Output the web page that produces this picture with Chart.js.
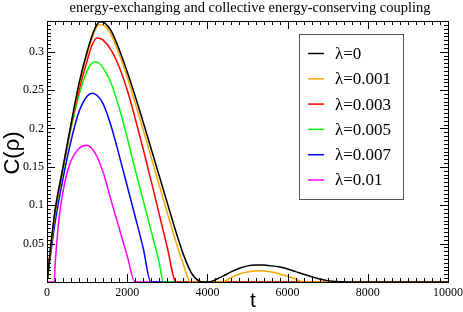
<!DOCTYPE html>
<html>
<head>
<meta charset="utf-8">
<script src="https://cdn.jsdelivr.net/npm/chart.js@4.4.1/dist/chart.umd.min.js"></script>
<style>
  html, body { margin: 0; padding: 0; background: #fff; }
  #wrap { width: 463px; height: 312px; position: relative; }
</style>
</head>
<body>
<div id="wrap"><canvas id="c"></canvas></div>
<script>
// values
const titleText = 'energy-exchanging and collective energy-conserving coupling';
const labels = ['λ=0', 'λ=0.001', 'λ=0.003', 'λ=0.005', 'λ=0.007', 'λ=0.01'];
const colors = ['#000000', '#ffa500', '#ff0000', '#00ff00', '#0000ff', '#ff00ff'];
const xTicks = [0, 2000, 4000, 6000, 8000, 10000];
const yTicks = [0.05, 0.1, 0.15, 0.2, 0.25, 0.3];

const t0 = [0, 50, 100, 200, 400, 600, 800, 1000, 1200, 1320, 1450, 1600, 1800, 2000, 2200, 2400, 2600, 2800, 3000, 3200, 3400, 3600, 3800, 3900, 4000, 4100, 4200, 4400, 4600, 4800, 5000, 5200, 5400, 5600, 5800, 6000, 6200, 6400, 6600, 6800, 7000, 7200, 7500, 10000];
const c0 = [0, 0.025, 0.05, 0.093, 0.15, 0.206, 0.259, 0.3, 0.331, 0.339, 0.337, 0.327, 0.303, 0.274, 0.242, 0.208, 0.173, 0.138, 0.103, 0.068, 0.036, 0.012, 0.001, 0, 0, 0.0008, 0.003, 0.008, 0.0135, 0.018, 0.021, 0.022, 0.022, 0.021, 0.0195, 0.017, 0.0135, 0.01, 0.0068, 0.004, 0.0018, 0.0005, 0, 0];

const t1 = [0, 50, 100, 200, 400, 600, 800, 1000, 1200, 1300, 1450, 1600, 1800, 2000, 2200, 2400, 2600, 2800, 3000, 3200, 3400, 3580, 4360, 4600, 4800, 5000, 5300, 5600, 5800, 6000, 6200, 6390, 10000];
const c1 = [0, 0.025, 0.05, 0.093, 0.15, 0.205, 0.257, 0.297, 0.328, 0.335, 0.333, 0.322, 0.297, 0.267, 0.233, 0.198, 0.162, 0.126, 0.09, 0.055, 0.023, 0, 0, 0.006, 0.0105, 0.013, 0.0145, 0.013, 0.0105, 0.0075, 0.004, 0, 0];

const t3 = [0, 50, 100, 200, 400, 600, 800, 1000, 1120, 1240, 1400, 1600, 1800, 2000, 2200, 2400, 2600, 2800, 3000, 3220, 10000];
const c3 = [0, 0.024, 0.048, 0.09, 0.148, 0.203, 0.25, 0.288, 0.308, 0.318, 0.315, 0.302, 0.28, 0.25, 0.213, 0.173, 0.131, 0.088, 0.045, 0, 0];

const t5 = [0, 50, 100, 200, 400, 600, 800, 1000, 1100, 1200, 1300, 1400, 1600, 1800, 2000, 2200, 2400, 2600, 2800, 2900, 10000];
const c5 = [0, 0.023, 0.046, 0.087, 0.146, 0.2, 0.244, 0.275, 0.284, 0.287, 0.285, 0.279, 0.259, 0.227, 0.188, 0.146, 0.106, 0.066, 0.025, 0, 0];

const t7 = [0, 50, 100, 200, 400, 600, 800, 1000, 1130, 1250, 1400, 1600, 1800, 2000, 2200, 2400, 2590, 10000];
const c7 = [0, 0.02, 0.04, 0.077, 0.135, 0.184, 0.222, 0.242, 0.246, 0.243, 0.232, 0.203, 0.165, 0.125, 0.085, 0.044, 0, 0];

const t10 = [0, 180, 200, 250, 300, 400, 500, 600, 800, 990, 1200, 1400, 1600, 1800, 2000, 2195, 10000];
const c10 = [0, 0, 0.02, 0.055, 0.083, 0.118, 0.142, 0.158, 0.174, 0.178, 0.168, 0.143, 0.106, 0.07, 0.034, 0, 0];

const series = [[t0, c0], [t1, c1], [t3, c3], [t5, c5], [t7, c7], [t10, c10]];

const serif = '"Liberation Serif", "DejaVu Serif", serif';
const sans = '"Liberation Sans", Arial, sans-serif';

// frame, inward ticks on all four sides, titles and the boxed legend
const framePlugin = {
    id: 'frame',
    afterDraw(chart) {
        const { ctx, chartArea: a, scales } = chart;
        const x = scales.x, y = scales.y;
        ctx.save();
        ctx.strokeStyle = '#000';
        ctx.lineWidth = 1;
        ctx.strokeRect(Math.round(a.left) + 0.5, Math.round(a.top) + 0.5, Math.round(a.right - a.left), Math.round(a.bottom - a.top));

        ctx.beginPath();
        for (let v = 0; v <= 10000; v += 200) {
            const px = Math.round(x.getPixelForValue(v)) + 0.5;
            const len = v % 2000 === 0 ? 8 : 4;
            ctx.moveTo(px, a.bottom); ctx.lineTo(px, a.bottom - len);
            ctx.moveTo(px, a.top); ctx.lineTo(px, a.top + len);
        }
        for (let i = 0; i <= 68; i++) {
            const v = i * 0.005;
            const py = Math.round(y.getPixelForValue(v)) + 0.5;
            const len = i % 10 === 0 ? 8 : 4;
            ctx.moveTo(a.left, py); ctx.lineTo(a.left + len, py);
            ctx.moveTo(a.right, py); ctx.lineTo(a.right - len, py);
        }
        ctx.stroke();

        // title
        ctx.fillStyle = '#000';
        ctx.font = '14.5px ' + serif;
        ctx.textAlign = 'center';
        ctx.textBaseline = 'middle';
        ctx.fillText(titleText, 250, 8);

        // axis titles
        ctx.font = '21px ' + sans;
        ctx.fillText('t', 253, 301);
        ctx.save();
        ctx.translate(13, 153);
        ctx.rotate(-Math.PI / 2);
        ctx.font = '22px ' + sans;
        ctx.fillText('C(ρ)', 0, 0);
        ctx.restore();

        // legend box
        ctx.fillStyle = '#fff';
        ctx.fillRect(299, 34, 104, 165);
        ctx.strokeStyle = '#555';
        ctx.strokeRect(299.5, 34.5, 104, 165);
        ctx.font = '17px ' + serif;
        ctx.textAlign = 'left';
        chart.data.datasets.forEach((ds, i) => {
            const ly = 53.5 + i * 25.3;
            ctx.strokeStyle = ds.borderColor;
            ctx.lineWidth = 1.5;
            ctx.beginPath();
            ctx.moveTo(308, ly); ctx.lineTo(324, ly);
            ctx.stroke();
            ctx.fillStyle = '#000';
            ctx.fillText(ds.label, 335, ly + 1);
        });
        ctx.restore();
    },
};

new Chart(document.getElementById('c'), {
    type: 'line',
    data: {
        datasets: series.map(([t, c], i) => ({
            label: labels[i],
            data: t.map((v, k) => ({ x: v, y: c[k] })),
            borderColor: colors[i],
            backgroundColor: colors[i],
            borderWidth: 1.5,
            pointRadius: 0,
            fill: false,
            cubicInterpolationMode: 'monotone',
        })),
    },
    options: {
        responsive: true,
        maintainAspectRatio: false,
        animation: false,
        layout: { padding: { top: 21, right: 15, left: 0, bottom: 0 } },
        plugins: {
            legend: { display: false },
            tooltip: { enabled: false },
        },
        scales: {
            x: {
                type: 'linear',
                min: 0,
                max: 10000,
                afterFit: (s) => { s.height = 30; s.paddingLeft = 0; s.paddingRight = 0; },
                afterBuildTicks: (axis) => { axis.ticks = xTicks.map(v => ({ value: v })); },
                grid: { display: false, drawTicks: false },
                border: { display: false },
                ticks: { color: '#000', padding: 4, maxRotation: 0, font: { family: serif, size: 12 }, callback: (v) => String(v) },
            },
            y: {
                type: 'linear',
                min: 0,
                max: 0.34,
                afterFit: (s) => { s.width = 47; s.paddingTop = 0; s.paddingBottom = 0; },
                afterBuildTicks: (axis) => { axis.ticks = yTicks.map(v => ({ value: v })); },
                grid: { display: false, drawTicks: false },
                border: { display: false },
                ticks: { color: '#000', padding: 3, font: { family: serif, size: 12 }, callback: (v) => String(+v.toFixed(2)) },
            },
        },
    },
    plugins: [framePlugin],
});
</script>
</body>
</html>
